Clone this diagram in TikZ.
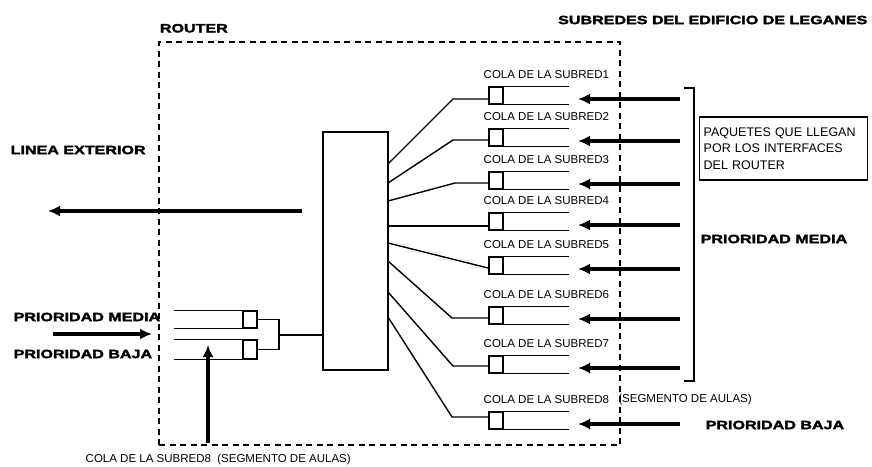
\documentclass[tikz,border=0pt]{standalone}
\usepackage{fontspec}
\setmainfont{Liberation Sans}
\newfontfamily\heavyfont[FakeStretch=1.34,FakeBold=2.5]{Liberation Sans Bold}
\usetikzlibrary{arrows.meta, calc}

\begin{document}
\begin{tikzpicture}[
    x=1pt, y=-1pt, line width=1.4pt,
    >=Latex, % default arrow tip
    heavy/.style={font=\heavyfont\fontsize{12}{12}\selectfont, inner sep=0pt, anchor=west}, % bold titles
    small/.style={font=\fontsize{11.5}{16.5}\selectfont, inner sep=0pt, anchor=west}, % queue names
    qhead/.style={draw, minimum width=14pt, minimum height=17pt, inner sep=0pt}, % head of a queue
    flow/.style={-{Latex[length=12pt,width=11pt]}, line width=4pt} % packet flow
]
    \useasboundingbox (0,0) rectangle (872,466);

    % Router and its switch
    \node[draw, dash pattern=on 6pt off 4.5pt, line width=1.6pt, minimum width=461pt, minimum height=403pt, inner sep=0pt] (router) at (389.5,243.5) {};
    \node[heavy, anchor=south west] (routerlbl) at ($(router.north west)+(1,-8)$) {ROUTER};
    \node[draw, minimum width=65pt, minimum height=238pt, inner sep=0pt] (mux) at (355.5,251) {};

    % Titles
    \node[heavy, anchor=east] (subredes) at (868,20) {SUBREDES DEL EDIFICIO DE LEGANES};
    \node[heavy] (linea) at (10,150) {LINEA EXTERIOR};

    % Outgoing line
    \coordinate (out_start) at (302,211);
    \coordinate (out_end) at (48,211);
    \draw[flow] (out_start) -- (out_end);

    % Queues of the eight subnets
    \foreach \i/\t/\o/\c/\b in {1/87/164/99/453, 2/129/183/140/453, 3/172/201/183/455, 4/213/226/226/453,
                                5/257/243/268/488, 6/307/261/318/452, 7/356/292/366/453, 8/412/317/417/452} {
        \node[qhead] (q\i) at (496,\t+8.5) {};
        \draw (q\i.north east) -- ++(65,0);
        \draw (q\i.south east) -- ++(65,0);
        \node[small] (l\i) at (483,\t-12) {COLA DE LA SUBRED\i};
        \coordinate (o\i) at (388,\o); % exit on the switch
        \draw (o\i) -- (\b,\c) -- (q\i.west |- 0,\c);
        \coordinate (in\i) at (680,\t+12);
        \coordinate (tip\i) at (578,\t+12);
        \draw[flow] (in\i) -- (tip\i);
    }
    \node[small, anchor=west] (aulas) at ($(l8.east)+(8,0)$) {(SEGMENTO DE AULAS)};

    % Bracket and notes on the right
    \coordinate (br_top) at (684,88);
    \coordinate (br_bot) at (684,381);
    \draw (br_top) -- ++(10,0) -- ($(br_bot)+(10,0)$) -- (br_bot);
    \node[draw, small, font=\fontsize{12.5}{16.5}\selectfont, inner sep=4pt, align=left, text width=160pt, minimum height=63pt] (info) at (699,148.5)
        {PAQUETES QUE LLEGAN\\POR LOS INTERFACES\\DEL ROUTER};
    \node[heavy] (media_r) at (700,239) {PRIORIDAD MEDIA};
    \node[heavy] (baja_r) at (705,425) {PRIORIDAD BAJA};

    % Output queues towards the exterior line
    \node[qhead] (qa) at (250,319.5) {};
    \node[qhead, minimum height=19pt] (qb) at (250,349.5) {};
    \foreach \q in {qa, qb} {
        \draw (\q.north west) -- ++(-68,0);
        \draw (\q.south west) -- ++(-68,0);
    }
    \coordinate (join) at (279,335);
    \draw (qa.east) -| (join) |- (qb.east);
    \draw (join) -- (mux.west |- join);

    % Left labels and arrows
    \node[heavy] (media_l) at (13,317) {PRIORIDAD MEDIA};
    \node[heavy] (baja_l) at (13,354) {PRIORIDAD BAJA};
    \coordinate (left_in) at (53,334);
    \coordinate (left_tip) at (152,334);
    \draw[flow] (left_in) -- (left_tip);
    \coordinate (up_in) at (208,443);
    \coordinate (up_tip) at (208,345);
    \draw[flow] (up_in) -- (up_tip);
    \node[small] (cola8) at (85,460) {COLA DE LA SUBRED8 \ (SEGMENTO DE AULAS)};

\end{tikzpicture}
\end{document}
